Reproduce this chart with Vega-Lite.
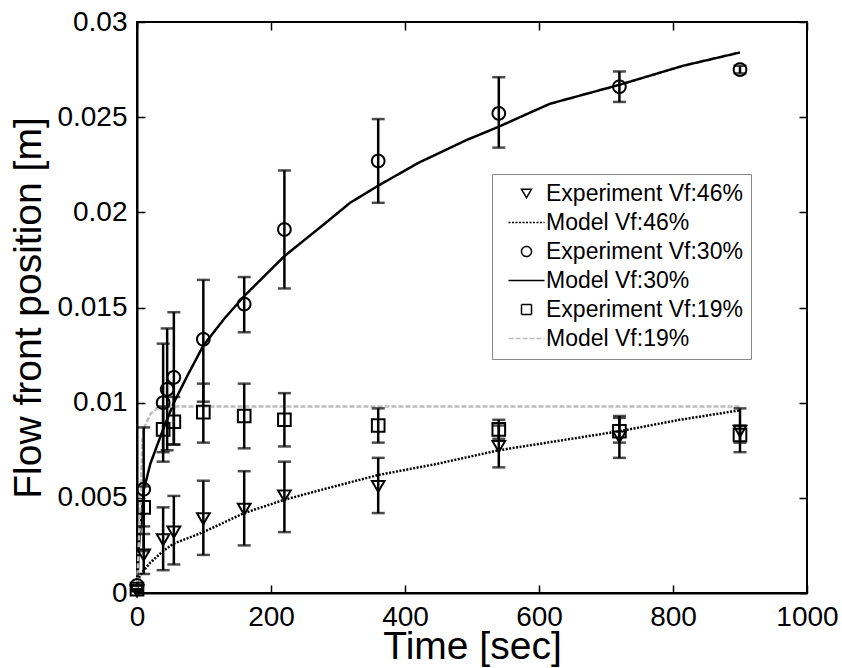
{
  "$schema": "https://vega.github.io/schema/vega-lite/v6.json",
  "width": 670,
  "height": 571,
  "autosize": {"type": "none"},
  "padding": {"left": 137, "top": 22, "right": 35, "bottom": 75},
  "background": "white",
  "config": {
    "view": {"stroke": "black", "strokeWidth": 2},
    "font": "Liberation Sans",
    "legend": {
      "orient": "none",
      "legendX": 355,
      "legendY": 152,
      "title": null,
      "fillColor": "white",
      "strokeColor": "#888888",
      "padding": 8,
      "symbolOffset": 15,
      "labelOffset": 8,
      "labelFontSize": 23,
      "labelFont": "Liberation Sans",
      "labelColor": "black",
      "symbolSize": 100,
      "symbolStrokeWidth": 1.5,
      "rowPadding": 5,
      "labelLimit": 400
    }
  },
  "datasets": {
    "exp": [
      {"t": 0, "v": 0.0001, "lo": 0.0001, "hi": 0.0001, "series": "Experiment Vf:46%"},
      {"t": 10, "v": 0.0020, "lo": 0.0010, "hi": 0.0031, "series": "Experiment Vf:46%"},
      {"t": 39, "v": 0.0028, "lo": 0.0012, "hi": 0.0045, "series": "Experiment Vf:46%"},
      {"t": 55, "v": 0.0032, "lo": 0.0015, "hi": 0.0051, "series": "Experiment Vf:46%"},
      {"t": 99, "v": 0.0039, "lo": 0.0020, "hi": 0.0059, "series": "Experiment Vf:46%"},
      {"t": 160, "v": 0.0044, "lo": 0.0025, "hi": 0.0064, "series": "Experiment Vf:46%"},
      {"t": 220, "v": 0.0051, "lo": 0.0032, "hi": 0.0069, "series": "Experiment Vf:46%"},
      {"t": 360, "v": 0.0056, "lo": 0.0042, "hi": 0.0071, "series": "Experiment Vf:46%"},
      {"t": 540, "v": 0.0077, "lo": 0.0066, "hi": 0.0088, "series": "Experiment Vf:46%"},
      {"t": 720, "v": 0.0082, "lo": 0.0071, "hi": 0.0093, "series": "Experiment Vf:46%"},
      {"t": 900, "v": 0.0085, "lo": 0.0074, "hi": 0.0097, "series": "Experiment Vf:46%"},
      {"t": 0, "v": 0.0004, "lo": 0.0004, "hi": 0.0004, "series": "Experiment Vf:30%"},
      {"t": 10, "v": 0.00545, "lo": 0.0022, "hi": 0.0087, "series": "Experiment Vf:30%"},
      {"t": 39, "v": 0.0100, "lo": 0.0069, "hi": 0.0131, "series": "Experiment Vf:30%"},
      {"t": 45, "v": 0.0107, "lo": 0.0075, "hi": 0.0139, "series": "Experiment Vf:30%"},
      {"t": 55, "v": 0.01133, "lo": 0.0078, "hi": 0.01475, "series": "Experiment Vf:30%"},
      {"t": 99, "v": 0.01333, "lo": 0.01005, "hi": 0.01645, "series": "Experiment Vf:30%"},
      {"t": 160, "v": 0.01518, "lo": 0.0137, "hi": 0.0166, "series": "Experiment Vf:30%"},
      {"t": 220, "v": 0.0191, "lo": 0.0160, "hi": 0.0222, "series": "Experiment Vf:30%"},
      {"t": 360, "v": 0.0227, "lo": 0.0205, "hi": 0.0249, "series": "Experiment Vf:30%"},
      {"t": 540, "v": 0.0252, "lo": 0.0234, "hi": 0.0271, "series": "Experiment Vf:30%"},
      {"t": 720, "v": 0.0266, "lo": 0.0258, "hi": 0.0274, "series": "Experiment Vf:30%"},
      {"t": 900, "v": 0.0275, "lo": 0.0273, "hi": 0.0277, "series": "Experiment Vf:30%"},
      {"t": 0, "v": 0.0002, "lo": 0.0002, "hi": 0.0002, "series": "Experiment Vf:19%"},
      {"t": 10, "v": 0.0045, "lo": 0.0035, "hi": 0.0056, "series": "Experiment Vf:19%"},
      {"t": 39, "v": 0.0086, "lo": 0.0074, "hi": 0.0098, "series": "Experiment Vf:19%"},
      {"t": 55, "v": 0.0090, "lo": 0.0078, "hi": 0.0103, "series": "Experiment Vf:19%"},
      {"t": 99, "v": 0.0095, "lo": 0.0079, "hi": 0.0110, "series": "Experiment Vf:19%"},
      {"t": 160, "v": 0.0093, "lo": 0.0076, "hi": 0.0110, "series": "Experiment Vf:19%"},
      {"t": 220, "v": 0.0091, "lo": 0.0077, "hi": 0.0105, "series": "Experiment Vf:19%"},
      {"t": 360, "v": 0.0088, "lo": 0.0079, "hi": 0.0097, "series": "Experiment Vf:19%"},
      {"t": 540, "v": 0.0086, "lo": 0.0081, "hi": 0.0091, "series": "Experiment Vf:19%"},
      {"t": 720, "v": 0.0085, "lo": 0.0079, "hi": 0.0092, "series": "Experiment Vf:19%"},
      {"t": 900, "v": 0.0083, "lo": 0.0079, "hi": 0.0088, "series": "Experiment Vf:19%"}
    ],
    "model": [
      {"t": 3, "v": 0.0008, "series": "Model Vf:46%"},
      {"t": 8, "v": 0.0011, "series": "Model Vf:46%"},
      {"t": 20, "v": 0.0016, "series": "Model Vf:46%"},
      {"t": 39, "v": 0.0022, "series": "Model Vf:46%"},
      {"t": 55, "v": 0.0026, "series": "Model Vf:46%"},
      {"t": 99, "v": 0.0032, "series": "Model Vf:46%"},
      {"t": 160, "v": 0.0042, "series": "Model Vf:46%"},
      {"t": 220, "v": 0.0049, "series": "Model Vf:46%"},
      {"t": 273, "v": 0.0054, "series": "Model Vf:46%"},
      {"t": 360, "v": 0.0062, "series": "Model Vf:46%"},
      {"t": 450, "v": 0.0068, "series": "Model Vf:46%"},
      {"t": 540, "v": 0.0075, "series": "Model Vf:46%"},
      {"t": 630, "v": 0.0080, "series": "Model Vf:46%"},
      {"t": 720, "v": 0.0085, "series": "Model Vf:46%"},
      {"t": 810, "v": 0.0091, "series": "Model Vf:46%"},
      {"t": 900, "v": 0.0096, "series": "Model Vf:46%"},
      {"t": 0, "v": 0.0000, "series": "Model Vf:30%"},
      {"t": 3, "v": 0.0025, "series": "Model Vf:30%"},
      {"t": 10, "v": 0.0054, "series": "Model Vf:30%"},
      {"t": 20, "v": 0.0068, "series": "Model Vf:30%"},
      {"t": 39, "v": 0.0086, "series": "Model Vf:30%"},
      {"t": 55, "v": 0.0100, "series": "Model Vf:30%"},
      {"t": 75, "v": 0.0114, "series": "Model Vf:30%"},
      {"t": 99, "v": 0.0130, "series": "Model Vf:30%"},
      {"t": 130, "v": 0.0144, "series": "Model Vf:30%"},
      {"t": 160, "v": 0.0156, "series": "Model Vf:30%"},
      {"t": 220, "v": 0.0177, "series": "Model Vf:30%"},
      {"t": 280, "v": 0.0194, "series": "Model Vf:30%"},
      {"t": 318, "v": 0.0205, "series": "Model Vf:30%"},
      {"t": 360, "v": 0.0214, "series": "Model Vf:30%"},
      {"t": 420, "v": 0.0226, "series": "Model Vf:30%"},
      {"t": 492, "v": 0.0238, "series": "Model Vf:30%"},
      {"t": 540, "v": 0.0245, "series": "Model Vf:30%"},
      {"t": 616, "v": 0.0257, "series": "Model Vf:30%"},
      {"t": 720, "v": 0.0267, "series": "Model Vf:30%"},
      {"t": 815, "v": 0.0277, "series": "Model Vf:30%"},
      {"t": 900, "v": 0.0284, "series": "Model Vf:30%"},
      {"t": 0, "v": 0.0002, "series": "Model Vf:19%"},
      {"t": 5, "v": 0.0045, "series": "Model Vf:19%"},
      {"t": 8, "v": 0.0080, "series": "Model Vf:19%"},
      {"t": 12, "v": 0.0088, "series": "Model Vf:19%"},
      {"t": 20, "v": 0.0094, "series": "Model Vf:19%"},
      {"t": 30, "v": 0.0097, "series": "Model Vf:19%"},
      {"t": 45, "v": 0.0098, "series": "Model Vf:19%"},
      {"t": 900, "v": 0.0098, "series": "Model Vf:19%"}
    ]
  },
  "resolve": {"axis": {"x": "independent", "y": "independent"}},
  "layer": [
    {
      "data": {"name": "model"},
      "mark": {"type": "line", "strokeWidth": 2.5},
      "encoding": {
        "x": {
          "field": "t", "type": "quantitative",
          "scale": {"domain": [0, 1000], "nice": false, "zero": false},
          "axis": {
            "title": "Time [sec]", "values": [0, 200, 400, 600, 800, 1000], "format": "d",
            "grid": false, "domainColor": "black", "domainWidth": 2,
            "tickColor": "black", "tickSize": -8, "tickWidth": 1.5,
            "labelFontSize": 28, "labelFont": "Liberation Sans", "labelColor": "black",
            "labelPadding": 18, "labelFlush": false, "labelOverlap": false, "labelBound": false,
            "titleFontSize": 39, "titleFont": "Liberation Sans", "titleFontWeight": "normal",
            "titleColor": "black", "titlePadding": -4
          }
        },
        "y": {
          "field": "v", "type": "quantitative",
          "scale": {"domain": [0, 0.03], "nice": false, "zero": false},
          "axis": {
            "title": "Flow front position [m]", "values": [0, 0.005, 0.01, 0.015, 0.02, 0.025, 0.03], "format": "~g",
            "grid": false, "domainColor": "black", "domainWidth": 2,
            "tickColor": "black", "tickSize": -8, "tickWidth": 1.5,
            "labelFontSize": 28, "labelFont": "Liberation Sans", "labelColor": "black",
            "labelPadding": 18, "labelFlush": false, "labelOverlap": false, "labelBound": false,
            "titleFontSize": 39, "titleFont": "Liberation Sans", "titleFontWeight": "normal",
            "titleColor": "black", "titlePadding": 8
          }
        },
        "color": {
          "field": "series", "type": "nominal",
          "scale": {
            "domain": ["Experiment Vf:46%", "Model Vf:46%", "Experiment Vf:30%", "Model Vf:30%", "Experiment Vf:19%", "Model Vf:19%"],
            "range": ["#000000", "#000000", "#000000", "#000000", "#000000", "#bdbdbd"]
          }
        },
        "strokeDash": {
          "field": "series", "type": "nominal",
          "scale": {
            "domain": ["Experiment Vf:46%", "Model Vf:46%", "Experiment Vf:30%", "Model Vf:30%", "Experiment Vf:19%", "Model Vf:19%"],
            "range": [[1, 0], [2, 1.5], [1, 0], [1, 0], [1, 0], [5, 2]]
          }
        }
      }
    },
    {
      "data": {"name": "exp"},
      "mark": {"type": "rule", "strokeWidth": 2.5, "color": "black"},
      "encoding": {
        "x": {"field": "t", "type": "quantitative", "axis": null},
        "y": {"field": "lo", "type": "quantitative", "axis": null},
        "y2": {"field": "hi"}
      }
    },
    {
      "data": {"name": "exp"},
      "transform": [{"fold": ["lo", "hi"], "as": ["end", "val"]}],
      "mark": {"type": "tick", "orient": "horizontal", "size": 13, "thickness": 2.5, "color": "black"},
      "encoding": {
        "x": {"field": "t", "type": "quantitative", "axis": null},
        "y": {"field": "val", "type": "quantitative", "axis": null}
      }
    },
    {
      "data": {"name": "exp"},
      "mark": {"type": "point", "filled": false, "strokeWidth": 2, "size": 160, "opacity": 1},
      "encoding": {
        "x": {
          "field": "t", "type": "quantitative",
          "axis": {"orient": "top", "labels": false, "title": null, "domain": false, "grid": false,
                   "values": [0, 200, 400, 600, 800, 1000], "tickColor": "black", "tickSize": -8, "tickWidth": 1.5}
        },
        "y": {
          "field": "v", "type": "quantitative",
          "axis": {"orient": "right", "labels": false, "title": null, "domain": false, "grid": false,
                   "values": [0, 0.005, 0.01, 0.015, 0.02, 0.025, 0.03], "tickColor": "black", "tickSize": -8, "tickWidth": 1.5}
        },
        "color": {"field": "series", "type": "nominal"},
        "shape": {
          "field": "series", "type": "nominal",
          "scale": {
            "domain": ["Experiment Vf:46%", "Model Vf:46%", "Experiment Vf:30%", "Model Vf:30%", "Experiment Vf:19%", "Model Vf:19%"],
            "range": ["triangle-down", "M-3.6,0H3.6", "circle", "M-3.6,0H3.6", "square", "M-3.6,0H3.6"]
          }
        },
        "strokeDash": {"field": "series", "type": "nominal"}
      }
    }
  ]
}
